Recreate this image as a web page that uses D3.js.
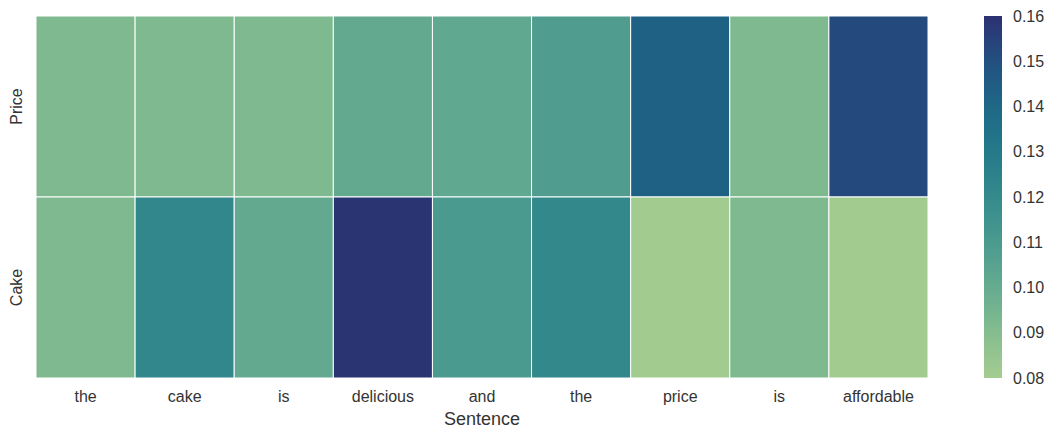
<!DOCTYPE html>
<html>
<head>
<meta charset="utf-8">
<script src="https://cdn.jsdelivr.net/npm/d3@7"></script>
<style>
  html, body { margin: 0; padding: 0; background: #fff; }
  svg { display: block; font-family: "Liberation Sans", Arial, sans-serif; }
</style>
</head>
<body>
<svg id="chart" width="1047" height="428"></svg>
<script>
// Attention weights of each aspect over the sentence tokens
const tokens = ["the", "cake", "is", "delicious", "and", "the", "price", "is", "affordable"];
const aspects = ["Price", "Cake"];
const priceWeights = [0.092, 0.092, 0.092, 0.101, 0.102, 0.108, 0.143, 0.092, 0.152];
const cakeWeights  = [0.092, 0.122, 0.101, 0.159, 0.110, 0.121, 0.081, 0.092, 0.081];
const colorTicks = [0.08, 0.09, 0.10, 0.11, 0.12, 0.13, 0.14, 0.15, 0.16];
const rows = [priceWeights, cakeWeights];

// "crest"-style sequential palette, light green to deep indigo
const crestStops = ["#a5cd90", "#84bd8f", "#65ab90", "#4a9a90", "#348a8c",
                    "#237a89", "#1d6886", "#225181", "#2c3172"];
const crest = d3.interpolateRgbBasis(crestStops);

const svg = d3.select("#chart");
const plot = { left: 36, top: 16, right: 928, bottom: 378 };
const fontFamily = "Liberation Sans, Arial, sans-serif";
const textColor = "#333";
const tickFont = 16;

const x = d3.scaleBand().domain(d3.range(tokens.length)).range([plot.left, plot.right]);
const y = d3.scaleBand().domain(aspects).range([plot.top, plot.bottom]);
const color = d3.scaleSequential(crest).domain([0.08, 0.16]);

const cells = [];
rows.forEach((vals, r) => vals.forEach((v, c) => cells.push({ r: aspects[r], c, v })));

svg.append("g").selectAll("rect").data(cells).join("rect")
  .attr("x", d => x(d.c))
  .attr("y", d => y(d.r))
  .attr("width", x.bandwidth())
  .attr("height", y.bandwidth())
  .attr("fill", d => color(d.v))
  .attr("stroke", "#fff")
  .attr("stroke-width", 1);

// x axis (token labels)
const xAxis = svg.append("g")
  .attr("transform", `translate(0,${plot.bottom})`)
  .call(d3.axisBottom(x).tickSize(0).tickPadding(13).tickFormat(i => tokens[i]));
xAxis.select(".domain").remove();
xAxis.selectAll("text").attr("font-size", tickFont).attr("fill", textColor)
  .attr("font-family", fontFamily);

svg.append("text")
  .attr("x", (plot.left + plot.right) / 2)
  .attr("y", 425)
  .attr("text-anchor", "middle")
  .attr("font-size", 18)
  .attr("font-family", fontFamily)
  .attr("fill", textColor)
  .text("Sentence");

// y axis (aspect labels, rotated)
const yAxis = svg.append("g")
  .attr("transform", `translate(${plot.left},0)`)
  .call(d3.axisLeft(y).tickSize(0).tickPadding(0));
yAxis.select(".domain").remove();
yAxis.selectAll(".tick text")
  .attr("font-size", tickFont).attr("fill", textColor)
  .attr("font-family", fontFamily)
  .attr("text-anchor", "middle")
  .attr("dy", 0)
  .attr("x", 0)
  .attr("transform", "translate(-14,0) rotate(-90)");

// colour bar
const cb = { x: 984, w: 18, top: 16, bottom: 378 };
const cbScale = d3.scaleLinear().domain([0.08, 0.16]).range([cb.bottom, cb.top]);
const defs = svg.append("defs");
const grad = defs.append("linearGradient").attr("id", "cbGrad")
  .attr("x1", 0).attr("y1", 1).attr("x2", 0).attr("y2", 0);
d3.range(0, 1.0001, 0.02).forEach(t => {
  grad.append("stop").attr("offset", t).attr("stop-color", crest(t));
});
svg.append("rect")
  .attr("x", cb.x).attr("y", cb.top)
  .attr("width", cb.w).attr("height", cb.bottom - cb.top)
  .attr("fill", "url(#cbGrad)");

const cbAxis = svg.append("g")
  .attr("transform", `translate(${cb.x + cb.w},0)`)
  .call(d3.axisRight(cbScale).tickValues(colorTicks).tickSize(0).tickPadding(11)
    .tickFormat(d3.format(".2f")));
cbAxis.select(".domain").remove();
cbAxis.selectAll("text").attr("font-size", tickFont).attr("fill", textColor)
  .attr("font-family", fontFamily);
</script>
</body>
</html>
